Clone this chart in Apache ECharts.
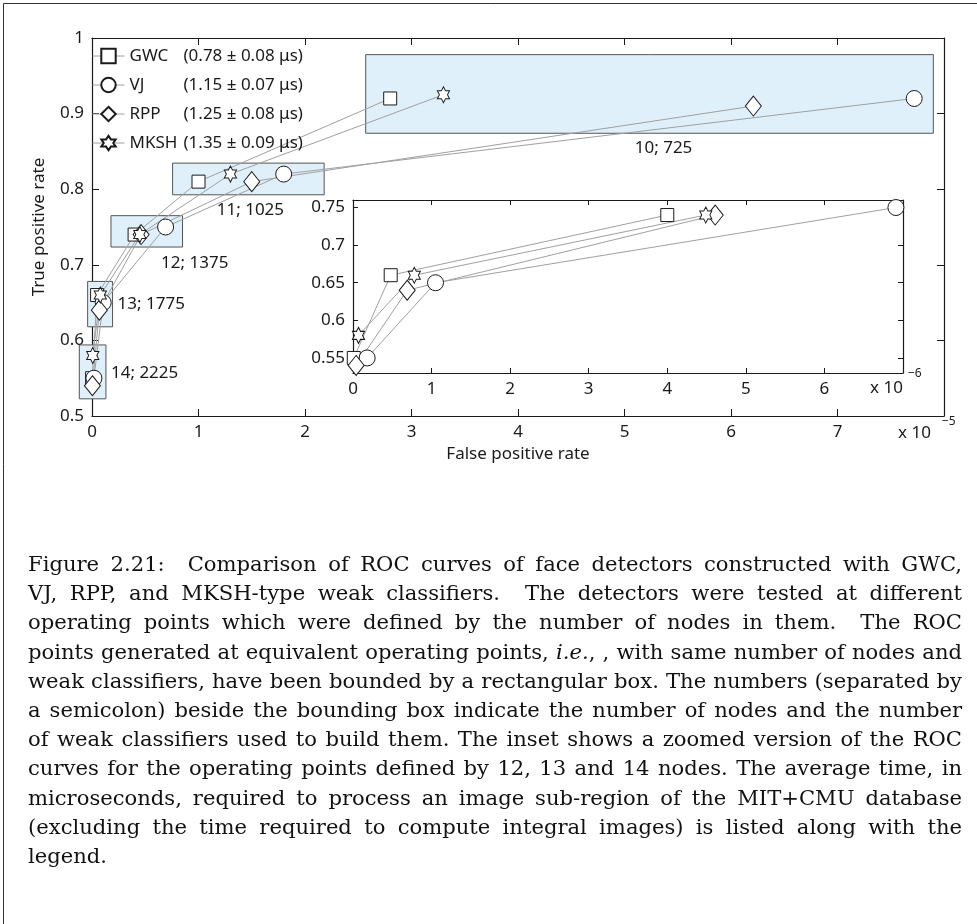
<!DOCTYPE html>
<html lang="en">
<head>
    <meta charset="UTF-8">
    <title>ROC curves of face detectors</title>
    <script src="https://cdn.jsdelivr.net/npm/echarts@6/dist/echarts.min.js"></script>
    <style>
        html, body { margin: 0; padding: 0; background: #fff; }
        #wrap { position: relative; width: 977px; height: 924px; overflow: hidden; }
        #main { position: absolute; left: 0; top: 0; width: 977px; height: 924px; }
        #caption { position: absolute; left: 28px; top: 549px; width: 934px;
                   font-family: "DejaVu Serif", serif; font-size: 20px; line-height: 29.2px; color: #111; }
        #caption div { text-align: justify; text-align-last: justify; white-space: nowrap; }
        #caption div.last { text-align-last: left; }
    </style>
</head>
<body>
<div id="wrap">
    <div id="main"></div>
    <div id="caption">
        <div>Figure 2.21:&nbsp; Comparison of ROC curves of face detectors constructed with GWC,</div>
        <div>VJ, RPP, and MKSH-type weak classifiers.&nbsp; The detectors were tested at different</div>
        <div>operating points which were defined by the number of nodes in them.&nbsp; The ROC</div>
        <div>points generated at equivalent operating points, <i>i.e.</i>, , with same number of nodes and</div>
        <div>weak classifiers, have been bounded by a rectangular box. The numbers (separated by</div>
        <div>a semicolon) beside the bounding box indicate the number of nodes and the number</div>
        <div>of weak classifiers used to build them. The inset shows a zoomed version of the ROC</div>
        <div>curves for the operating points defined by 12, 13 and 14 nodes. The average time, in</div>
        <div>microseconds, required to process an image sub-region of the MIT+CMU database</div>
        <div>(excluding the time required to compute integral images) is listed along with the</div>
        <div class="last">legend.</div>
    </div>
</div>
<script type="text/javascript">
    // operating points: number of nodes; number of weak classifiers
    var opPoints = ['10; 725', '11; 1025', '12; 1375', '13; 1775', '14; 2225'];
    var names = ['GWC', 'VJ', 'RPP', 'MKSH'];
    var timesUs = ['0.78 ± 0.08', '1.15 ± 0.07', '1.25 ± 0.08', '1.35 ± 0.09'];

    // false positive rate (x 1e-5) and true positive rate, for 10..14 nodes
    var gwcFpr  = [2.80, 1.00, 0.400, 0.048, 0.001];
    var gwcTpr  = [0.92, 0.81, 0.74, 0.66, 0.55];
    var vjFpr   = [7.72, 1.80, 0.691, 0.105, 0.018];
    var vjTpr   = [0.92, 0.82, 0.75, 0.65, 0.55];
    var rppFpr  = [6.21, 1.50, 0.461, 0.069, 0.004];
    var rppTpr  = [0.91, 0.81, 0.74, 0.64, 0.54];
    var mkshFpr = [3.30, 1.30, 0.449, 0.078, 0.007];
    var mkshTpr = [0.925, 0.82, 0.74, 0.66, 0.58];

    // bounding boxes [fprMin, fprMax, tprMin, tprMax] (fpr x 1e-5)
    var boxes = [
        [2.57, 7.90, 0.874, 0.978],
        [0.757, 2.18, 0.7926, 0.8345],
        [0.178, 0.850, 0.7235, 0.765],
        [-0.041, 0.193, 0.618, 0.678],
        [-0.119, 0.131, 0.5227, 0.594]
    ];

    var mainYTicks = [0.5, 0.6, 0.7, 0.8, 0.9, 1];
    var insetYTicks = [0.55, 0.6, 0.65, 0.7, 0.75];

    var fprs = [gwcFpr, vjFpr, rppFpr, mkshFpr];
    var tprs = [gwcTpr, vjTpr, rppTpr, mkshTpr];

    // six-pointed star outline
    function hexagram() {
        var d = 'path://';
        for (var k = 0; k < 12; k++) {
            var r = k % 2 === 0 ? 50 : 50 / Math.sqrt(3);
            var a = (-90 + k * 30) * Math.PI / 180;
            d += (k === 0 ? 'M' : 'L') + (50 + r * Math.cos(a)).toFixed(2) + ' ' + (50 + r * Math.sin(a)).toFixed(2) + ' ';
        }
        return d + 'Z';
    }
    var symbols = ['rect', 'circle', 'diamond', hexagram()];
    var symbolSizes = [13, 16, [16, 20], [14, 16]];

    var font = '"Noto Sans", sans-serif';
    var ink = '#1a1a1a';
    var lineGray = '#a0a0a0';

    // label placement for each box: below or right of it, with pixel offsets
    var boxLabelPlace = [
        {side: 'below', dx: 14, dy: 15},
        {side: 'below', dx: 2, dy: 15},
        {side: 'below', dx: 48, dy: 16},
        {side: 'right', dx: 5, dy: 0},
        {side: 'right', dx: 5, dy: 1}
    ];

    function pairs(i, from, scale) {
        var out = [];
        for (var j = from; j < fprs[i].length; j++) out.push([fprs[i][j] * scale, tprs[i][j]]);
        return out;
    }

    var series = [];
    series.push({
        type: 'custom',
        coordinateSystem: 'cartesian2d',
        xAxisIndex: 0, yAxisIndex: 0,
        clip: false, silent: true, z: 1,
        encode: {x: [0, 1], y: [2, 3]},
        data: boxes,
        renderItem: function (params, api) {
            var p0 = api.coord([api.value(0), api.value(3)]);
            var p1 = api.coord([api.value(1), api.value(2)]);
            var lp = boxLabelPlace[params.dataIndex];
            var tx, ty, align;
            if (lp.side === 'below') {
                tx = (p0[0] + p1[0]) / 2 + lp.dx; ty = p1[1] + lp.dy; align = 'center';
            } else {
                tx = p1[0] + lp.dx; ty = (p0[1] + p1[1]) / 2 + lp.dy; align = 'left';
            }
            return {
                type: 'group',
                children: [
                    {type: 'rect', shape: {x: p0[0], y: p0[1], width: p1[0] - p0[0], height: p1[1] - p0[1]},
                     style: {fill: '#dff0fa', stroke: '#555', lineWidth: 1}},
                    {type: 'text', style: {text: opPoints[params.dataIndex], x: tx, y: ty, align: align,
                     verticalAlign: 'middle', font: '17px ' + font, fill: ink}}
                ]
            };
        }
    });

    // gray connecting lines first, markers on top
    for (var i = 0; i < 4; i++) {
        series.push({type: 'line', xAxisIndex: 0, yAxisIndex: 0, data: pairs(i, 0, 1),
            symbol: 'none', silent: true, z: 2, clip: false,
            lineStyle: {color: lineGray, width: 1}});
        series.push({type: 'line', xAxisIndex: 2, yAxisIndex: 2, data: pairs(i, 2, 10),
            symbol: 'none', silent: true, z: 2, clip: false,
            lineStyle: {color: lineGray, width: 1}});
    }
    for (var i = 0; i < 4; i++) {
        var mk = {
            symbol: symbols[i], symbolSize: symbolSizes[i], symbolKeepAspect: true,
            showAllSymbol: true, clip: false, z: 3,
            itemStyle: {color: '#fff', borderColor: ink, borderWidth: 1},
            lineStyle: {opacity: 0}
        };
        series.push(Object.assign({type: 'line', name: names[i], xAxisIndex: 0, yAxisIndex: 0,
            data: pairs(i, 0, 1)}, mk));
        series.push(Object.assign({type: 'line', name: names[i], xAxisIndex: 2, yAxisIndex: 2,
            data: pairs(i, 2, 10)}, mk));
    }

    function xAx(grid, max, pos, labels, tickLen, name) {
        return {
            type: 'value', gridIndex: grid, min: 0, max: max, interval: 1, position: pos,
            name: name || '', nameLocation: 'middle', nameGap: 30,
            nameTextStyle: {fontFamily: font, fontSize: 17, color: ink},
            axisLine: {onZero: false, lineStyle: {color: ink, width: 1.2}},
            axisTick: {inside: true, length: tickLen, lineStyle: {color: ink}},
            axisLabel: {show: labels, showMaxLabel: false, margin: 8, fontFamily: font, fontSize: 17, color: ink},
            splitLine: {show: false}
        };
    }
    function yAx(grid, min, max, ticks, pos, labels, tickLen, name) {
        return {
            type: 'value', gridIndex: grid, min: min, max: max, position: pos,
            name: name || '', nameLocation: 'middle', nameGap: 44,
            nameTextStyle: {fontFamily: font, fontSize: 17, color: ink},
            axisLine: {onZero: false, lineStyle: {color: ink, width: 1.2}},
            axisTick: {inside: true, length: tickLen, customValues: ticks, lineStyle: {color: ink}},
            axisLabel: {show: labels, customValues: ticks, margin: 8, fontFamily: font, fontSize: 17, color: ink},
            splitLine: {show: false}
        };
    }

    var myChart = echarts.init(document.getElementById('main'));
    var option = {
        animation: false,
        backgroundColor: '#fff',
        grid: [
            {left: 92, top: 38, right: 33, bottom: 508},
            {left: 353, top: 200, right: 74, bottom: 551, show: true, backgroundColor: '#fff', borderWidth: 0}
        ],
        xAxis: [
            xAx(0, 8, 'bottom', true, 7, 'False positive rate'),
            xAx(0, 8, 'top', false, 7),
            xAx(1, 7, 'bottom', true, 5),
            xAx(1, 7, 'top', false, 5)
        ],
        yAxis: [
            yAx(0, 0.5, 1, mainYTicks, 'left', true, 7, 'True positive rate'),
            yAx(0, 0.5, 1, mainYTicks, 'right', false, 7),
            yAx(1, 0.53, 0.76, insetYTicks, 'left', true, 5),
            yAx(1, 0.53, 0.76, insetYTicks, 'right', false, 5)
        ],
        legend: {
            orient: 'vertical', left: 92, top: 46, padding: 0,
            itemWidth: 32, itemHeight: 18, itemGap: 9,
            selectedMode: false,
            data: names,
            lineStyle: {color: lineGray, width: 1, opacity: 1},
            formatter: function (n) {
                return '{n|' + n + '}{t|(' + timesUs[names.indexOf(n)] + ' μs)}';
            },
            textStyle: {fontFamily: font, fontSize: 17, color: ink, lineHeight: 20,
                rich: {n: {width: 54, fontFamily: font, fontSize: 17, color: ink},
                       t: {fontFamily: font, fontSize: 17, color: ink}}}
        },
        graphic: [
            {type: 'rect', silent: true, z: 100,
             shape: {x: 3.5, y: 3.5, width: 990, height: 960},
             style: {fill: 'none', stroke: '#333', lineWidth: 1}},
            {type: 'text', x: 898, y: 433, style: {text: 'x 10', font: '17px ' + font, fill: ink, verticalAlign: 'middle'}},
            {type: 'text', x: 942, y: 422, style: {text: '−5', font: '12px ' + font, fill: ink, verticalAlign: 'middle'}},
            {type: 'text', x: 870, y: 388, style: {text: 'x 10', font: '17px ' + font, fill: ink, verticalAlign: 'middle'}},
            {type: 'text', x: 908, y: 374, style: {text: '−6', font: '12px ' + font, fill: ink, verticalAlign: 'middle'}}
        ],
        series: series
    };
    myChart.setOption(option);

    // caption: size the serif text so the tight lines fill the column, squeeze any that overflow
    var cap = document.getElementById('caption');
    var capLines = cap.querySelectorAll('div');
    var colW = 934;
    function naturalWidth(el) {
        var s = document.createElement('span');
        s.style.whiteSpace = 'nowrap';
        s.innerHTML = el.innerHTML;
        el.parentNode.appendChild(s);
        var w = s.getBoundingClientRect().width;
        el.parentNode.removeChild(s);
        return w;
    }
    var w5 = naturalWidth(capLines[4]);
    cap.style.fontSize = (20 * colW / w5 * 0.995).toFixed(2) + 'px';
    for (var k = 0; k < capLines.length - 1; k++) {
        var w = naturalWidth(capLines[k]);
        if (w > colW) {
            capLines[k].style.letterSpacing = ((colW - w) / capLines[k].textContent.length).toFixed(3) + 'px';
        }
    }
</script>
</body>
</html>
